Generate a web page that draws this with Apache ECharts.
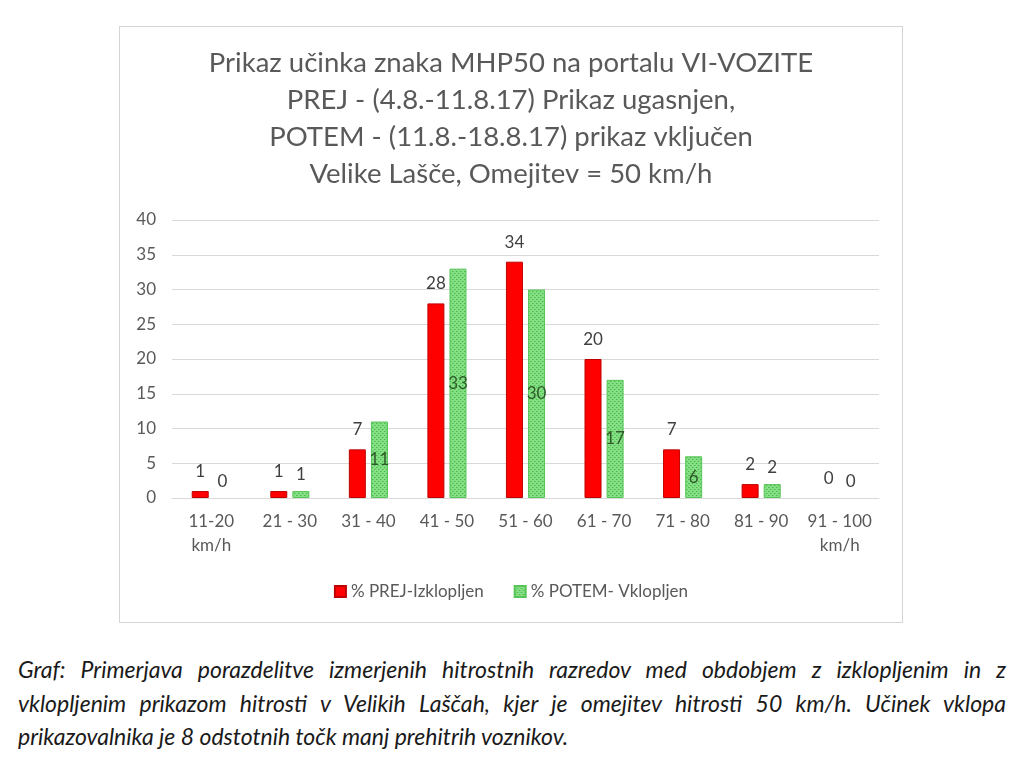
<!DOCTYPE html>
<html>
<head>
<meta charset="utf-8">
<script src="https://cdn.jsdelivr.net/npm/echarts@6/dist/echarts.min.js"></script>
<style>
  html, body { margin: 0; padding: 0; background: #fff; }
  #box {
    position: absolute; left: 119px; top: 26px; width: 784px; height: 597px;
    border: 1px solid #d4d4d4; box-sizing: border-box;
  }
  #chart { width: 100%; height: 100%; }
  #caption {
    position: absolute; left: 18px; top: 653px; width: 988px;
    font-family: Lato, "Open Sans", sans-serif; font-style: italic;
    font-size: 23px; line-height: 33.5px; color: #1a1a1a;
  }
  #caption .j { text-align: justify; text-align-last: justify; white-space: nowrap; }
</style>
</head>
<body>
<div id="box"><div id="chart"></div></div>
<div id="caption">
  <div class="j">Graf: Primerjava porazdelitve izmerjenih hitrostnih razredov med obdobjem z izklopljenim in z</div>
  <div class="j">vklopljenim prikazom hitrosti v Velikih Laščah, kjer je omejitev hitrosti 50 km/h. Učinek vklopa</div>
  <div>prikazovalnika je 8 odstotnih točk manj prehitrih voznikov.</div>
</div>
<script>
// podatki grafa
const categories = ['11-20\nkm/h', '21 - 30', '31 - 40', '41 - 50', '51 - 60', '61 - 70', '71 - 80', '81 - 90', '91 - 100\nkm/h'];
const prej = [1, 1, 7, 28, 34, 20, 7, 2, 0];
const potem = [0, 1, 11, 33, 30, 17, 6, 2, 0];
const yTicks = [0, 5, 10, 15, 20, 25, 30, 35, 40];
const seriesNames = ['% PREJ-Izklopljen', '% POTEM- Vklopljen'];
const titleLines = [
  'Prikaz učinka znaka MHP50 na portalu VI-VOZITE',
  'PREJ - (4.8.-11.8.17) Prikaz ugasnjen,',
  'POTEM - (11.8.-18.8.17) prikaz vključen',
  'Velike Lašče, Omejitev = 50 km/h'
];

// vzorec za zelene stolpce (pikice)
function makePattern() {
  const c = document.createElement('canvas');
  c.width = 4; c.height = 4;
  const ctx = c.getContext('2d');
  ctx.fillStyle = '#86df86';
  ctx.fillRect(0, 0, 4, 4);
  ctx.fillStyle = '#46bc46';
  ctx.fillRect(0, 0, 1, 1);
  ctx.fillRect(2, 2, 1, 1);
  ctx.fillStyle = '#66cf66';
  ctx.fillRect(1, 0, 1, 1);
  ctx.fillRect(3, 2, 1, 1);
  return c;
}
const greenFill = { image: makePattern(), repeat: 'repeat' };

const font = 'Lato, "Open Sans", sans-serif';
const grey = '#595959';
const hidden = { color: 'transparent', borderWidth: 0 };

const prejData = prej.map(v => (v === 0 ? { value: v, itemStyle: hidden } : v));
const potemData = potem.map(v => ({
  value: v,
  itemStyle: v === 0 ? hidden : undefined,
  label: v >= 6
    ? { position: 'inside', color: '#2f5a2a' }
    : { position: 'top', distance: 8, color: '#404040' }
}));

const chart = echarts.init(document.getElementById('chart'));
chart.setOption({
  animation: false,
  textStyle: { fontFamily: font },
  title: {
    text: titleLines.join('\n'),
    left: 'center',
    top: 13,
    textStyle: { fontFamily: font, fontSize: 27.5, fontWeight: 'normal', color: grey, lineHeight: 37 }
  },
  legend: {
    bottom: 17,
    left: 'center',
    itemWidth: 11,
    itemHeight: 11,
    itemGap: 30,
    icon: 'rect',
    textStyle: { fontFamily: font, fontSize: 17, color: grey },
    data: seriesNames
  },
  grid: { left: 52, right: 23, top: 193, bottom: 124 },
  xAxis: {
    type: 'category',
    data: categories,
    axisLine: { lineStyle: { color: '#d9d9d9', width: 1 } },
    axisTick: { show: false },
    axisLabel: { fontFamily: font, fontSize: 17, color: grey, lineHeight: 24, margin: 12, interval: 0 }
  },
  yAxis: {
    type: 'value',
    min: yTicks[0],
    max: yTicks[yTicks.length - 1],
    interval: 5,
    axisLine: { show: false },
    axisTick: { show: false },
    axisLabel: { fontFamily: font, fontSize: 17, color: grey, margin: 16 },
    splitLine: { lineStyle: { color: '#d9d9d9', width: 1 } }
  },
  series: [
    {
      name: seriesNames[0],
      type: 'bar',
      data: prejData,
      barWidth: 17,
      barGap: '30%',
      itemStyle: { color: '#ff0000', borderColor: '#c00000', borderWidth: 1 },
      label: { show: true, position: 'top', distance: 11, fontFamily: font, fontSize: 17, color: '#404040' }
    },
    {
      name: seriesNames[1],
      type: 'bar',
      data: potemData,
      barWidth: 17,
      barGap: '30%',
      itemStyle: { color: greenFill, borderColor: '#56c456', borderWidth: 1 },
      label: { show: true, fontFamily: font, fontSize: 17 }
    }
  ]
});
</script>
</body>
</html>
